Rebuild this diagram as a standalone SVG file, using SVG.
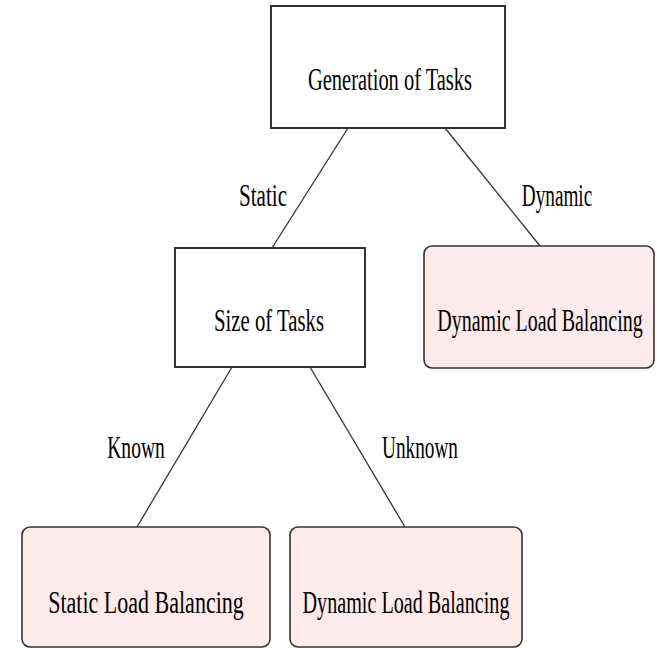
<svg xmlns="http://www.w3.org/2000/svg" width="657" height="648" viewBox="0 0 657 648">
  <style>
    .box { fill: #ffffff; stroke: #333333; stroke-width: 2; }
    .leaf { fill: #fdeaea; stroke: #333333; stroke-width: 1.6; }
    .lbl { font-family: "Liberation Serif", "DejaVu Serif", serif; font-size: 31px; fill: #000000; text-anchor: middle; }
    .edge { stroke: #333333; stroke-width: 1.3; fill: none; }
  </style>
  <rect width="657" height="648" fill="#ffffff"/>

  <!-- connectors, with their labels set in a condensed serif -->
  <g id="edges">
    <line class="edge" x1="348" y1="128" x2="272" y2="248"/>
    <line class="edge" x1="445" y1="128" x2="540" y2="246"/>
    <line class="edge" x1="232" y1="367" x2="137" y2="527"/>
    <line class="edge" x1="310" y1="367" x2="405" y2="527"/>
    <text class="lbl" transform="translate(263,206) scale(0.68,1)">Static</text>
    <text class="lbl" transform="translate(557,206) scale(0.62,1)">Dynamic</text>
    <text class="lbl" transform="translate(136,458) scale(0.63,1)">Known</text>
    <text class="lbl" transform="translate(420,458) scale(0.62,1)">Unknown</text>
  </g>

  <g id="generation">
    <rect class="box" x="271" y="6" width="234" height="122"/>
    <text class="lbl" transform="translate(390,90) scale(0.66,1)">Generation of Tasks</text>
  </g>

  <g id="size">
    <rect class="box" x="175" y="248" width="190" height="119"/>
    <text class="lbl" transform="translate(269,331) scale(0.67,1)">Size of Tasks</text>
  </g>

  <g id="dynamic-top">
    <rect class="leaf" x="424" y="246" width="230" height="122" rx="8"/>
    <text class="lbl" transform="translate(540,331) scale(0.645,1)">Dynamic Load Balancing</text>
  </g>

  <g id="static-bottom">
    <rect class="leaf" x="22" y="527" width="248" height="120" rx="8"/>
    <text class="lbl" transform="translate(146,613) scale(0.71,1)">Static Load Balancing</text>
  </g>

  <g id="dynamic-bottom">
    <rect class="leaf" x="290" y="527" width="232" height="120" rx="8"/>
    <text class="lbl" transform="translate(406,613) scale(0.65,1)">Dynamic Load Balancing</text>
  </g>
</svg>
